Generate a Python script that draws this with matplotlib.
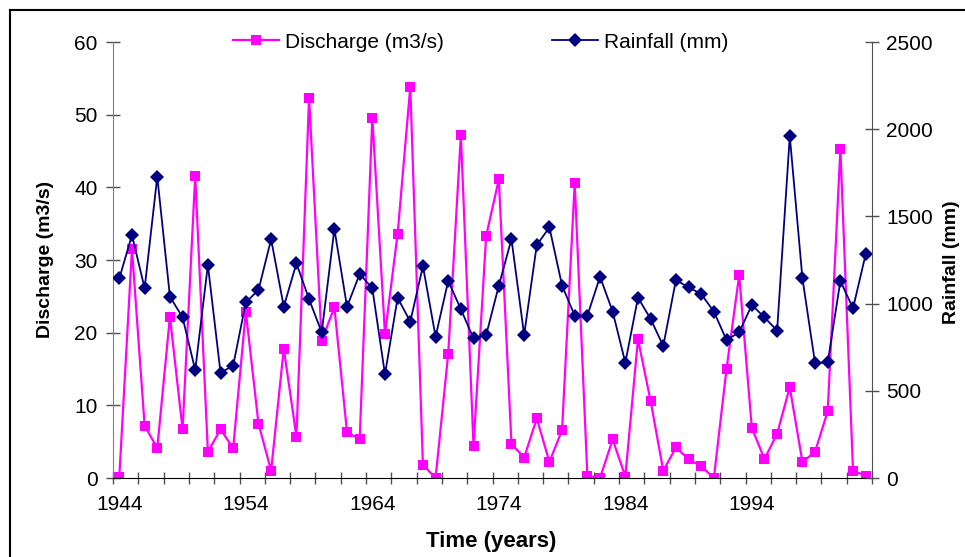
import matplotlib
matplotlib.use("Agg")
import matplotlib.pyplot as plt
from matplotlib.lines import Line2D
import numpy as np

plt.rcParams['font.family'] = ['Liberation Sans', 'DejaVu Sans']

years = list(range(1944, 2004))
discharge = [0.2, 31.5, 7.2, 4.1, 22.2, 6.7, 41.6, 3.6, 6.7, 4.1,
             22.9, 7.5, 1.0, 17.8, 5.7, 52.3, 18.9, 23.5, 6.3, 5.3,
             49.6, 19.8, 33.6, 53.8, 1.8, 0.0, 17.1, 47.2, 4.4, 33.3,
             41.1, 4.7, 2.8, 8.2, 2.2, 6.6, 40.6, 0.3, 0.0, 5.3,
             0.2, 19.1, 10.6, 1.0, 4.2, 2.6, 1.6, 0.0, 15.0, 27.9,
             6.9, 2.6, 6.1, 12.5, 2.2, 3.6, 9.2, 45.3, 1.0, 0.3]
rainfall = [1145, 1393, 1088, 1728, 1040, 921, 619, 1221, 604, 644,
            1007, 1078, 1369, 982, 1231, 1025, 835, 1428, 982, 1170,
            1088, 594, 1034, 896, 1216, 810, 1131, 967, 801, 820,
            1103, 1370, 820, 1336, 1437, 1103, 931, 931, 1154, 954,
            661, 1034, 912, 757, 1135, 1093, 1055, 954, 791, 835,
            992, 921, 845, 1961, 1145, 658, 663, 1130, 973, 1283]
year_labels = [1944, 1954, 1964, 1974, 1984, 1994]
left_ticks = [0, 10, 20, 30, 40, 50, 60]
right_ticks = [0, 500, 1000, 1500, 2000, 2500]

W, H = 965, 557
fig = plt.figure(figsize=(W / 100, H / 100), dpi=100)
fig.patch.set_facecolor('white')

l, r, t, b = 113, 872, 42, 478
ax = fig.add_axes([l / W, 1 - b / H, (r - l) / W, (b - t) / H])
ax2 = ax.twinx()

ln1, = ax.plot(years, discharge, color='#FF00FF', lw=1.6, marker='s',
               markersize=6.5, markeredgewidth=0, label='Discharge (m3/s)')
ln2, = ax2.plot(years, rainfall, color='#000080', lw=1.3, marker='D',
                markersize=6.8, markeredgewidth=0, label='Rainfall (mm)')

ax.set_xlim(years[0] - 0.5, years[-1] + 0.5)
ax.set_ylim(0, 60)
ax2.set_ylim(0, 2500)
ax.set_yticks(left_ticks)
ax2.set_yticks(right_ticks)
ax.set_xticks(year_labels)
ax.set_xticks(np.arange(years[0] - 0.5, years[-1] + 0.6, 2), minor=True)

for a in (ax, ax2):
    a.spines['top'].set_visible(False)
    a.set_facecolor('none')
ax.spines['left'].set_color('#808080')
ax.spines['right'].set_visible(False)
ax.spines['bottom'].set_color('black')
ax2.spines['left'].set_visible(False)
ax2.spines['bottom'].set_visible(False)
ax2.spines['right'].set_color('#505050')

ax.tick_params(axis='y', direction='inout', length=10, width=1, color='#505050',
               labelsize=15, pad=6)
ax2.tick_params(axis='y', direction='inout', length=10, width=1, color='#505050',
                labelsize=15, pad=5)
ax.tick_params(axis='x', which='major', length=0, labelsize=15, pad=12)
ax.tick_params(axis='x', which='minor', direction='inout', length=8.5, width=1,
               color='#505050')

ax.set_ylabel('Discharge (m3/s)', fontsize=14, fontweight='bold', va='center')
ax.yaxis.set_label_coords((46 - l) / (r - l), (b - 259) / (b - t))
ax2.set_ylabel('Rainfall (mm)', fontsize=14, fontweight='bold', va='center',
               rotation=90)
ax2.yaxis.set_label_coords((952 - l) / (r - l), (b - 262) / (b - t))
ax.set_xlabel('Time (years)', fontsize=16, fontweight='bold', va='center')
ax.xaxis.set_label_coords((491 - l) / (r - l), (b - 542) / (b - t))

fig.legend(handles=[ln1, ln2], loc='center left', ncol=2, frameon=False,
           bbox_to_anchor=(233 / W, 1 - 42 / H), borderaxespad=0, borderpad=0,
           fontsize=15, handlelength=2.2, handletextpad=0.3, columnspacing=5.2)

fig.add_artist(Line2D([9.5 / W, 9.5 / W], [0, 1 - 10 / H], color='black', lw=1.5,
                      transform=fig.transFigure))
fig.add_artist(Line2D([9.5 / W, 1], [1 - 10 / H, 1 - 10 / H], color='black', lw=1.5,
                      transform=fig.transFigure))

fig.savefig('out.png', dpi=100)
